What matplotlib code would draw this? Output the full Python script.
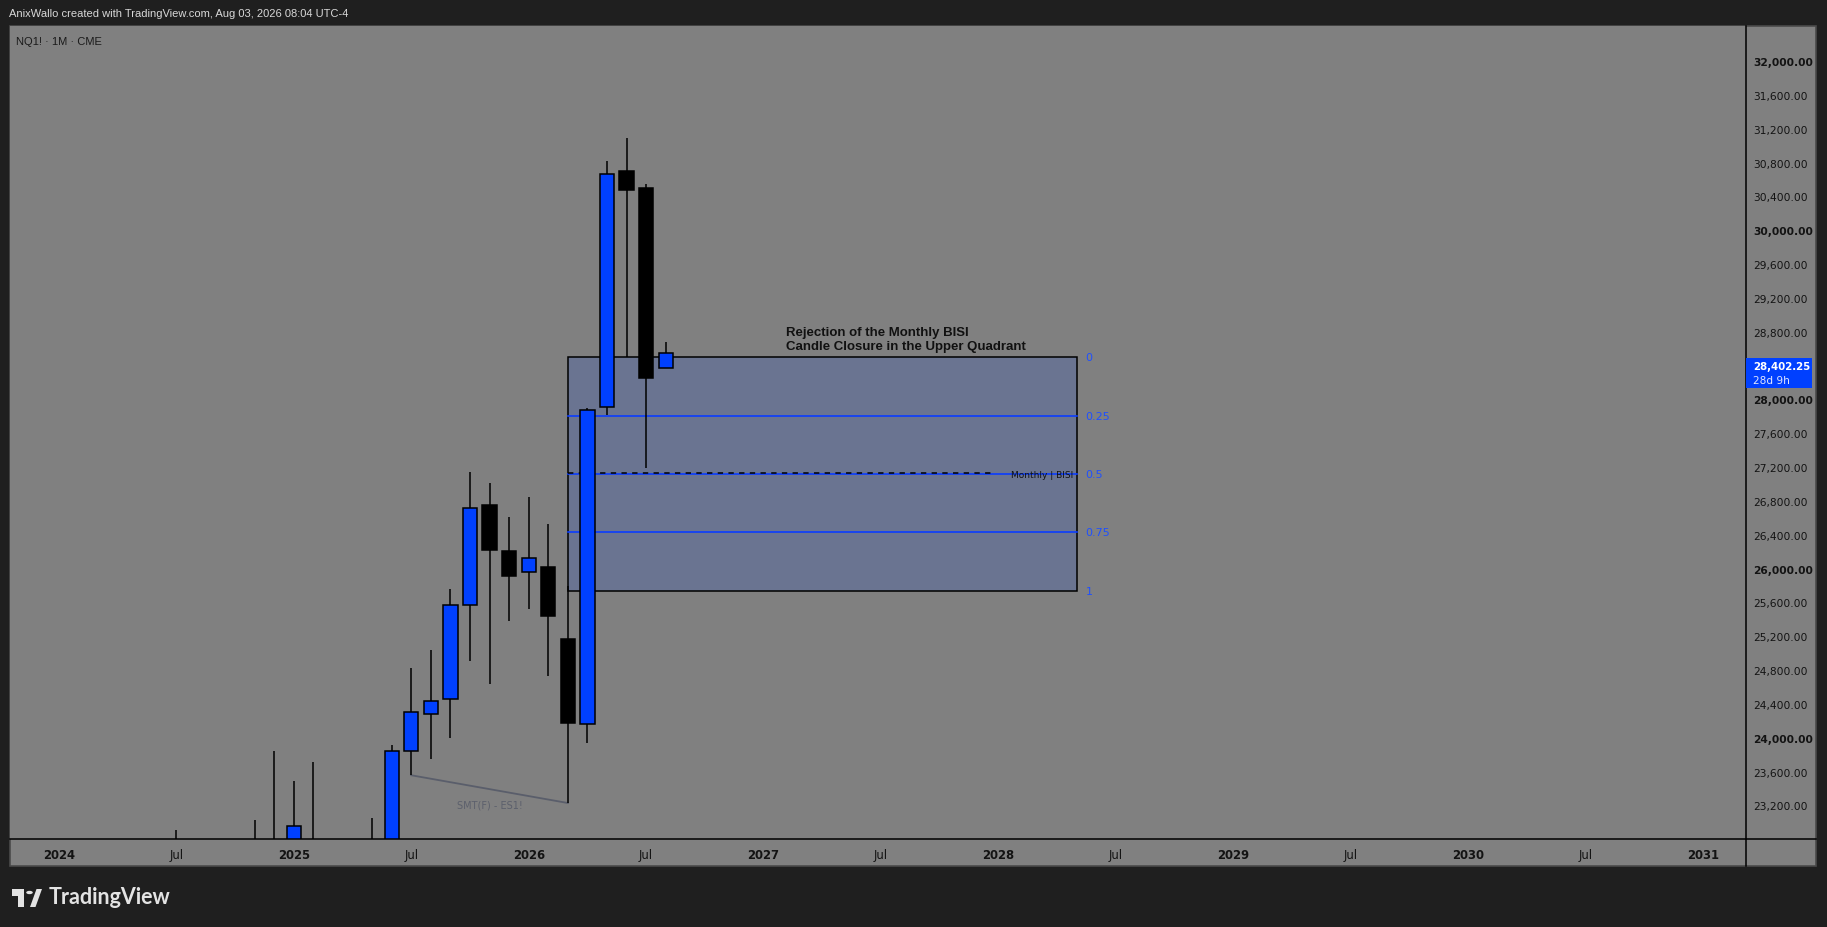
import matplotlib.pyplot as plt
from matplotlib.patches import Rectangle, Polygon, Circle
from matplotlib.lines import Line2D

# monthly candles, month index 0 = Jan 2024
months = [6, 7, 8, 9, 10, 11, 12, 13, 14, 15, 16, 17, 18, 19, 20, 21,
          22, 23, 24, 25, 26, 27, 28, 29, 30, 31]
opens = [22700, 22300, 22100, 22400, 22500, 22750, 22500, 22650, 22600, 22200, 22300, 22500,
         23839, 24278, 24456, 25571, 26757, 26211, 25962, 26021, 25167, 24159, 27907, 30695,
         30497, 28377]
highs = [22905, 22600, 22500, 22700, 23032, 23842, 23486, 23712, 22750, 22600, 23047, 23913,
         24827, 25040, 25764, 27140, 27010, 26606, 26843, 26523, 25800, 27899, 30817, 31090,
         30545, 28682]
lows = [21900, 21800, 21700, 21900, 22000, 22300, 22100, 22200, 21500, 20900, 21700, 22200,
        23557, 23751, 24000, 24902, 24640, 25376, 25518, 24735, 23229, 23941, 27820, 28500,
        27191, 28377]
closes = [22300, 22100, 22400, 22500, 22750, 22500, 22961, 22600, 22200, 22300, 22500, 23839,
          24301, 24432, 25571, 26721, 26218, 25910, 26128, 25440, 24171, 27872, 30660, 30477,
          28259, 28548]

price_ticks = list(range(23200, 32001, 400))
time_ticks = list(range(0, 85, 6))
time_labels = ["2024", "Jul", "2025", "Jul", "2026", "Jul", "2027", "Jul",
               "2028", "Jul", "2029", "Jul", "2030", "Jul", "2031"]

# BISI range (Mar 2026 -> May 2028)
box_left, box_right = 26, 52
box_top, box_bottom = 28500, 25737
levels = [0, 0.25, 0.5, 0.75, 1]
level_names = ["0", "0.25", "0.5", "0.75", "1"]

smt_x = [18, 26]
smt_y = [23557, 23229]

last_price = "28,402.25"
countdown = "28d 9h"

W, H = 1827, 928
def fx(x): return x / W
def fy(y): return 1 - y / H

fig = plt.figure(figsize=(W / 100, H / 100), dpi=100, facecolor="#1f1f1f")

# chart panel background + frame
fig.patches.append(Rectangle((fx(10), fy(867)), fx(1816) - fx(10), fy(27) - fy(867),
                             transform=fig.transFigure, facecolor="#808080",
                             edgecolor="#4a4a4a", lw=1.2, zorder=-10))

ax = fig.add_axes([fx(10.3), fy(840.3), fx(1746) - fx(10.3), fy(27) - fy(840.3)])
ax.set_facecolor("#808080")
for s in ax.spines.values():
    s.set_visible(False)
ax.set_xlim(-2.49, 86.2)
ax.set_ylim(22800, 32415)

# BISI box
ax.add_patch(Rectangle((box_left, box_bottom), box_right - box_left, box_top - box_bottom,
                       facecolor="#6a7491", edgecolor="black", lw=1.1, zorder=1))
for lv, nm in zip(levels, level_names):
    p = box_top - lv * (box_top - box_bottom)
    if 0 < lv < 1:
        ax.plot([box_left, box_right], [p, p], color="#0a3cff", lw=1.2, zorder=2)
    ax.text(box_right + 0.45, p, nm, color="#1f50ff", fontsize=8, va="center", ha="left")
mid = box_top - 0.5 * (box_top - box_bottom)
ax.plot([box_left, 47.7], [mid + 12, mid + 12], color="black", lw=1.1,
        linestyle=(0, (3.5, 3.5)), zorder=3)
ax.text(box_right - 0.2, mid, "Monthly | BISI", fontsize=6.5, color="#111111",
        ha="right", va="center", zorder=4)

ax.text(37.13, 28792, "Rejection of the Monthly BISI", fontsize=9.5, fontweight="bold",
        family="Liberation Sans", color="#111111", va="center", ha="left")
ax.text(37.13, 28635, "Candle Closure in the Upper Quadrant", fontsize=9.5, fontweight="bold",
        family="Liberation Sans", color="#111111", va="center", ha="left")

# SMT divergence line
ax.plot(smt_x, smt_y, color="#5a5e6b", lw=1.3, zorder=2)
ax.text(22.03, 23213, "SMT(F) - ES1!", fontsize=7, color="#5c606c", ha="center", va="center")

# candles
bw = 0.73
for m, o, h, l, c in zip(months, opens, highs, lows, closes):
    col = "#0040ff" if c >= o else "black"
    ax.vlines(m, l, h, color="black", lw=1.1, zorder=5)
    ax.bar(m, abs(c - o), bottom=min(o, c), width=bw, color=col,
           edgecolor="black", linewidth=1.1, zorder=6)

# axes ticks
ax.yaxis.tick_right()
ax.set_yticks(price_ticks)
ax.set_yticklabels([f"{p:,.2f}" for p in price_ticks])
for t, p in zip(ax.get_yticklabels(), price_ticks):
    t.set_fontweight("bold" if p % 2000 == 0 else "normal")
ax.set_xticks(time_ticks)
ax.set_xticklabels(time_labels)
for t, lab in zip(ax.get_xticklabels(), time_labels):
    t.set_fontweight("normal" if lab == "Jul" else "bold")
ax.tick_params(axis="y", length=0, pad=5, labelsize=7.7, labelcolor="#131313")
ax.tick_params(axis="x", length=0, pad=6, labelsize=8.4, labelcolor="#131313")

# separators
fig.lines.append(Line2D([fx(1746), fx(1746)], [fy(27), fy(867)], transform=fig.transFigure,
                        color="black", lw=1.1))
fig.lines.append(Line2D([fx(10), fx(1816)], [fy(840.3), fy(840.3)], transform=fig.transFigure,
                        color="black", lw=1.1))

# last price tag
fig.patches.append(Rectangle((fx(1746), fy(389)), fx(1812) - fx(1746), fy(359) - fy(389),
                             transform=fig.transFigure, facecolor="#0040ff", zorder=5))
fig.text(fx(1753), fy(367), last_price, color="white", fontsize=7.4, fontweight="bold",
         va="center", ha="left", zorder=6)
fig.text(fx(1753), fy(381), countdown, color="#dfe6ff", fontsize=7.6,
         va="center", ha="left", zorder=6)

# header texts
fig.text(fx(9), fy(14), "AnixWallo created with TradingView.com, Aug 03, 2026 08:04 UTC-4",
         color="#d8d8d8", fontsize=8, family="Liberation Sans", va="center", ha="left")
fig.text(fx(16), fy(42), "NQ1! · 1M · CME", color="#1a1a1a", fontsize=8,
         family="Liberation Sans", va="center", ha="left")

# TradingView logo
logo = "#e3e3e3"
fig.patches.append(Rectangle((fx(12), fy(897)), fx(24) - fx(12), fy(890) - fy(897),
                             transform=fig.transFigure, facecolor=logo))
fig.patches.append(Rectangle((fx(17.5), fy(908)), fx(24) - fx(17.5), fy(890) - fy(908),
                             transform=fig.transFigure, facecolor=logo))
fig.patches.append(Polygon([(fx(30), fy(908)), (fx(35.5), fy(908)), (fx(42), fy(890)),
                            (fx(36.5), fy(890))], closed=True,
                           transform=fig.transFigure, facecolor=logo))
fig.patches.append(Circle((fx(29.5), fy(893.5)), 3.3 / W, transform=fig.transFigure,
                          facecolor=logo))
fig.text(fx(49), fy(898), "TradingView", color=logo, fontsize=15.5, fontweight="bold",
         family="Lato", va="center", ha="left")

fig.savefig("out.png", dpi=100, facecolor=fig.get_facecolor())
